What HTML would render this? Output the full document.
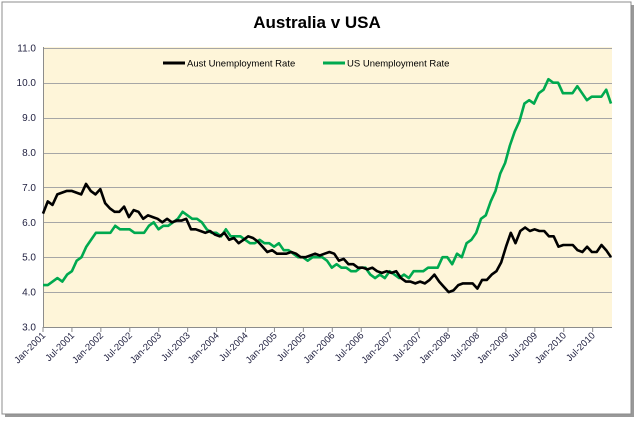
<!DOCTYPE html>
<html><head><meta charset="utf-8"><style>
html,body{margin:0;padding:0;background:#fff;}
svg{display:block;font-family:"Liberation Sans",sans-serif;}
</style></head><body>
<svg id="s" width="639" height="422" xmlns="http://www.w3.org/2000/svg">
<rect x="5" y="5" width="629" height="412" fill="#999"/>
<rect x="2" y="2" width="629" height="412" fill="#fff" stroke="#8c8c8c" stroke-width="1"/>
<text x="317" y="28" text-anchor="middle" font-size="17" font-weight="bold" fill="#000">Australia v USA</text>
<rect x="43" y="47" width="569" height="280" fill="#fef5d9"/>
<g id="grid" stroke="#a6a6a6" stroke-width="1"></g>
<line x1="43.5" y1="47" x2="43.5" y2="327" stroke="#8c8c8c"/>
<line x1="43" y1="327.5" x2="612" y2="327.5" stroke="#8c8c8c"/>
<g id="lab" font-size="10" fill="#1f1f3f"></g>
<line x1="163" y1="63" x2="185" y2="63" stroke="#000" stroke-width="3"/>
<text x="187" y="66.5" font-size="9.5" fill="#000">Aust Unemployment  Rate</text>
<line x1="323" y1="63" x2="345" y2="63" stroke="#00a94f" stroke-width="3"/>
<text x="347" y="66.5" font-size="9.5" fill="#000">US Unemployment Rate</text>
<polyline id="us" fill="none" stroke="#00a94f" stroke-width="2.6" stroke-linejoin="round"/>
<polyline id="au" fill="none" stroke="#000" stroke-width="2.6" stroke-linejoin="round"/>
</svg>
<script>
var NS="http://www.w3.org/2000/svg";
function Y(v){return 327-(v-3)*34.9;}
var g=document.getElementById('grid'),lab=document.getElementById('lab');
for(var v=3;v<=11;v++){
 if(v>3){var l=document.createElementNS(NS,'line');l.setAttribute('x1',43);l.setAttribute('x2',612);l.setAttribute('y1',Math.round(Y(v))+0.5);l.setAttribute('y2',Math.round(Y(v))+0.5);g.appendChild(l);}
 var t=document.createElementNS(NS,'text');t.setAttribute('x',36);t.setAttribute('y',Y(v)+3.5);t.setAttribute('text-anchor','end');t.textContent=v.toFixed(1);lab.appendChild(t);
}
for(var i=0;i<20;i++){
 var x=43+i*28.93;
 var l=document.createElementNS(NS,'line');l.setAttribute('x1',x);l.setAttribute('x2',x);l.setAttribute('y1',327);l.setAttribute('y2',332);l.setAttribute('stroke','#8c8c8c');lab.appendChild(l);
 var t=document.createElementNS(NS,'text');t.setAttribute('text-anchor','end');t.setAttribute('font-size','9.5');
 t.setAttribute('transform','translate('+(x+3)+',336) rotate(-45)');
 t.textContent=(i%2==0?'Jan-':'Jul-')+(2001+Math.floor(i/2));lab.appendChild(t);
}
var au=[6.25,6.6,6.5,6.8,6.85,6.9,6.9,6.85,6.8,7.1,6.9,6.8,
6.95,6.55,6.4,6.3,6.3,6.45,6.15,6.35,6.3,6.1,6.2,6.15,
6.1,6.0,6.1,6.0,6.05,6.05,6.1,5.8,5.8,5.75,5.7,5.75,
5.65,5.6,5.7,5.5,5.55,5.4,5.5,5.6,5.55,5.45,5.3,5.15,
5.2,5.1,5.1,5.1,5.15,5.1,5.0,5.0,5.05,5.1,5.05,5.1,
5.15,5.1,4.9,4.95,4.8,4.8,4.7,4.7,4.65,4.7,4.6,4.55,
4.6,4.55,4.6,4.4,4.3,4.3,4.25,4.3,4.25,4.35,4.5,4.3,
4.15,4.0,4.05,4.2,4.25,4.25,4.25,4.1,4.35,4.35,4.5,4.6,
4.85,5.3,5.7,5.4,5.75,5.85,5.75,5.8,5.75,5.75,5.6,5.6,
5.3,5.35,5.35,5.35,5.2,5.15,5.3,5.15,5.15,5.35,5.2,5.0];
var us=[4.2,4.2,4.3,4.4,4.3,4.5,4.6,4.9,5.0,5.3,5.5,5.7,
5.7,5.7,5.7,5.9,5.8,5.8,5.8,5.7,5.7,5.7,5.9,6.0,
5.8,5.9,5.9,6.0,6.1,6.3,6.2,6.1,6.1,6.0,5.8,5.7,
5.7,5.6,5.8,5.6,5.6,5.6,5.5,5.4,5.4,5.5,5.4,5.4,
5.3,5.4,5.2,5.2,5.1,5.0,5.0,4.9,5.0,5.0,5.0,4.9,
4.7,4.8,4.7,4.7,4.6,4.6,4.7,4.7,4.5,4.4,4.5,4.4,
4.6,4.5,4.4,4.5,4.4,4.6,4.6,4.6,4.7,4.7,4.7,5.0,
5.0,4.8,5.1,5.0,5.4,5.5,5.7,6.1,6.2,6.6,6.9,7.4,
7.7,8.2,8.6,8.9,9.4,9.5,9.4,9.7,9.8,10.1,10.0,10.0,
9.7,9.7,9.7,9.9,9.7,9.5,9.6,9.6,9.6,9.8,9.4];
function pts(a){var s=[],n=a.length;for(var i=0;i<n;i++){s.push((43+i*568/(n-1)).toFixed(1)+','+Y(a[i]).toFixed(1));}return s.join(' ');}
document.getElementById('au').setAttribute('points',pts(au));
document.getElementById('us').setAttribute('points',pts(us));
</script>
</body></html>
